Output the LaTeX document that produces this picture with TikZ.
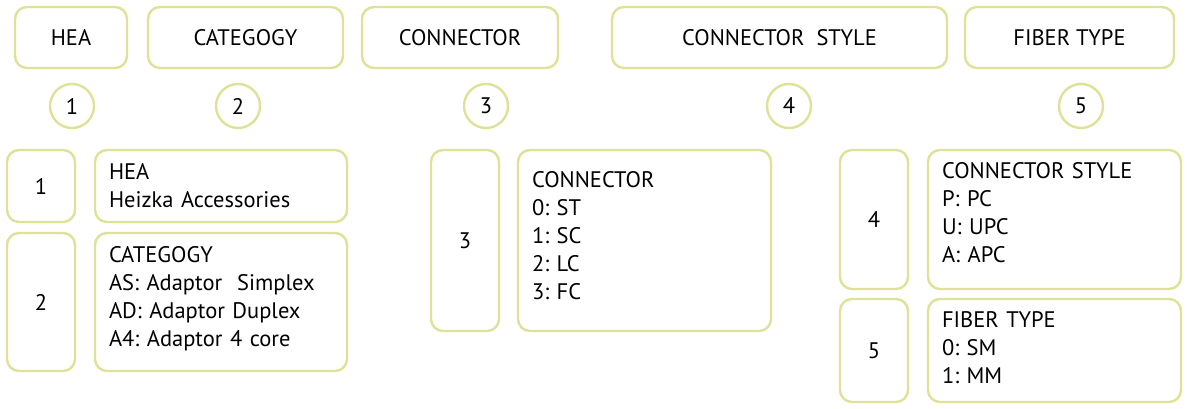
\documentclass[tikz,border=0pt]{standalone}
\usepackage{fontspec}
\setmainfont{PT Sans}
\usetikzlibrary{shapes}

\definecolor{olive}{RGB}{221,226,152}
\newcommand\padbelow[1]{\rule[-#1]{0pt}{#1}}

\tikzset{
  box/.style={shape=rectangle,draw=olive,line width=2.4pt,rounded corners=12pt,align=center,inner sep=0pt,font=\fontsize{22.5}{28}\selectfont},
  list/.style={box,align=left,inner xsep=14pt},
  num/.style={shape=circle,draw=olive,line width=2.4pt,minimum size=44pt,inner sep=0pt,font=\fontsize{22.5}{28}\selectfont}
}

\begin{document}
\frenchspacing
\begin{tikzpicture}[x=1pt,y=-1pt]
\useasboundingbox (0,0) rectangle (1187,409);

% headings
\node[box,minimum width=112pt,minimum height=61pt] (h1) at (71,37.5) {HEA};
\node[box,minimum width=195pt,minimum height=61pt] (h2) at (245.5,37.5) {CATEGOGY};
\node[box,minimum width=196pt,minimum height=61pt] (h3) at (460,37.5) {CONNECTOR};
\node[box,minimum width=335pt,minimum height=61pt] (h4) at (779.5,37.5) {CONNECTOR\ \ STYLE};
\node[box,minimum width=209pt,minimum height=61pt] (h5) at (1069.5,37.5) {FIBER TYPE};

% position numbers
\node[num] (c1) at (72,106) {1};
\node[num] (c2) at (238,106) {2};
\node[num] (c3) at (486,106) {3};
\node[num] (c4) at (789,106) {4};
\node[num] (c5) at (1081,106) {5};

% keys
\node[box,minimum width=68pt,minimum height=72pt] (k1) at (41,186) {1};
\node[box,minimum width=68pt,minimum height=138pt] (k2) at (41,302) {2};
\node[box,minimum width=68pt,minimum height=181pt] (k3) at (465,240.5) {3};
\node[box,minimum width=68pt,minimum height=139pt] (k4) at (874,219.5) {4};
\node[box,minimum width=68pt,minimum height=103pt] (k5) at (874,350.5) {5};

% values
\node[list,text width=224pt,minimum height=72pt] (v1) at (221,186) {HEA\\Heizka Accessories};
\node[list,text width=224pt,minimum height=138pt] (v2) at (221,302) {CATEGOGY\\AS: Adaptor\ \ Simplex\\AD: Adaptor Duplex\\A4: Adaptor 4 core\padbelow{12pt}};
\node[list,text width=225pt,minimum height=181pt] (v3) at (644.5,240.5) {CONNECTOR\\0: ST\\1: SC\\2: LC\\3: FC\padbelow{10pt}};
\node[list,text width=225pt,minimum height=139pt] (v4) at (1054.5,219.5) {CONNECTOR STYLE\\P: PC\\U: UPC\\A: APC\padbelow{15pt}};
\node[list,text width=225pt,minimum height=103pt] (v5) at (1054.5,350.5) {FIBER TYPE\\0: SM\\1: MM\padbelow{5pt}};
\end{tikzpicture}
\end{document}
